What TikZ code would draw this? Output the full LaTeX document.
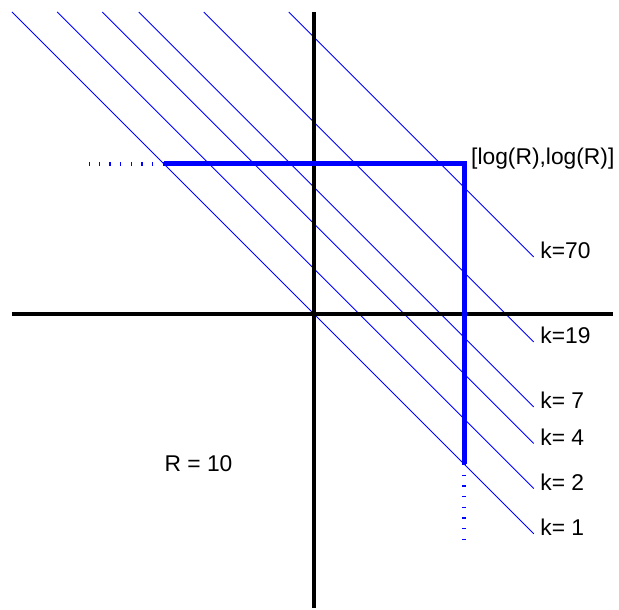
\documentclass[tikz,border=0pt]{standalone}
\usepackage{fontspec}
\setmainfont{Liberation Sans}
\begin{document}
\begin{tikzpicture}[x=150pt,y=150pt,
  axis/.style={line width=4pt,black},
  level/.style={blue,line width=0.9pt},
  bound/.style={blue,line width=5pt,line join=miter},
  dots/.style={blue,line width=4pt,dash pattern=on 1.3pt off 9.37pt},
  lab/.style={font=\fontsize{22.8}{27}\selectfont,inner sep=0pt}]
\useasboundingbox (-2.0933,-1.9733) rectangle (2.0333,2.0933);
% level lines x+y = log10(k)
\foreach \c/\t/\n in {0/k= 1/a, 0.30103/k= 2/b, 0.60206/k= 4/c, 0.845098/k= 7/d, 1.278754/k=19/e, 1.845098/k=70/f}{
  \coordinate (s\n) at ({\c-2.0133},2.0133);
  \coordinate (e\n) at (1.465,{\c-1.465});
  \draw[level] (s\n) -- (e\n);
  \node[lab,anchor=west,xshift=6.5pt,yshift=6.5pt] (l\n) at (e\n) {\t};
}
% axes
\coordinate (xl) at (-2.0133,0);
\coordinate (xr) at (1.993,0);
\coordinate (yt) at (0,2.0133);
\coordinate (yb) at (0,-1.96);
\draw[axis] (xl) -- (xr);
\draw[axis] (yt) -- (yb);
% bound
\coordinate (tl) at (-1,1);
\coordinate (cr) at (1,1);
\coordinate (br) at (1,-1);
\coordinate (tlx) at (-1.5,1);
\coordinate (brx) at (1,-1.5);
\draw[dots] (tl) -- (tlx);
\draw[dots] (br) -- (brx);
\draw[bound] (tl) -- (cr) -- (br);
\node[lab,anchor=base west,xshift=7pt,yshift=-1pt] (corner) at (cr) {[log(R),log(R)]};
\node[lab] (rlab) at (-0.77,-0.9967) {R = 10};
\end{tikzpicture}
\end{document}
